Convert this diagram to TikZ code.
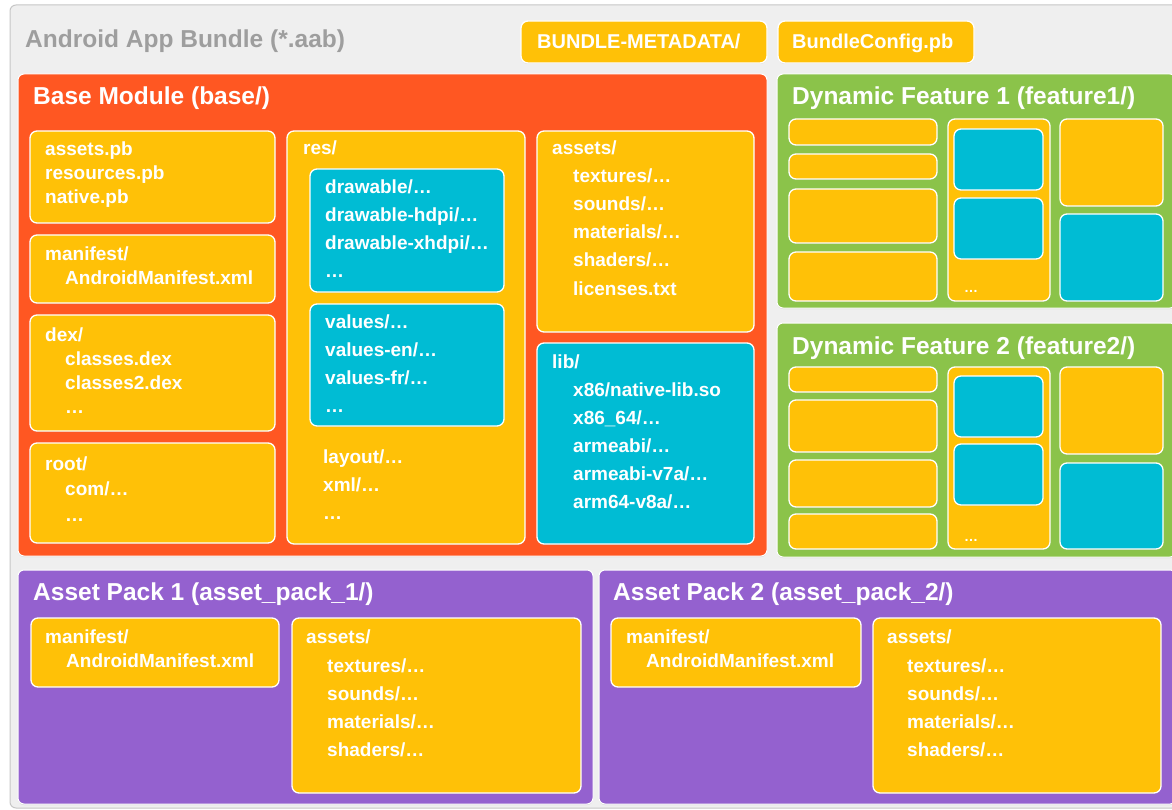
\documentclass[tikz,border=0pt]{standalone}
\usepackage{fontspec}
\setmainfont{Liberation Sans}
\usetikzlibrary{shadows}
\definecolor{cOrange}{HTML}{FF5722}
\definecolor{cAmber}{HTML}{FFC107}
\definecolor{cCyan}{HTML}{00BCD4}
\definecolor{cGreen}{HTML}{8BC34A}
\definecolor{cPurple}{HTML}{9461CF}
\definecolor{cBg}{HTML}{EFEFEF}
\definecolor{cBgLine}{HTML}{C6C6C6}
\definecolor{cTitle}{HTML}{9E9E9E}
\tikzset{
  box/.style={draw=white, line width=1.3pt, rounded corners=7pt, inner sep=0pt, outer sep=0pt,
    drop shadow={shadow xshift=0pt, shadow yshift=-1pt, opacity=0.22}},
  ybox/.style={box, fill=cAmber},
  cbox/.style={box, fill=cCyan},
  module/.style={box, rounded corners=6pt, line width=1pt},
  outerbox/.style={draw=cBgLine, fill=cBg, line width=1pt, rounded corners=6pt, inner sep=0pt, outer sep=0pt},
  lbl/.style={anchor=base west, inner sep=0pt, text=white, font=\bfseries\fontsize{19}{22}\selectfont},
  ttl/.style={lbl, font=\bfseries\fontsize{24.5}{28}\selectfont},
  tag/.style={lbl, font=\bfseries\fontsize{20}{24}\selectfont},
  dots/.style={lbl, font=\bfseries\fontsize{14}{16}\selectfont},
}
\newcommand\boxat[6]{\node[#2, minimum width={#5-#3}, minimum height={#6-#4}] (#1) at ({(#3+#5)/2},{(#4+#6)/2}) {};}
\newcommand\lines[5]{\foreach \itm [count=\i from 0] in {#5} {\node[lbl] (#1\i) at (#2,{#3+\i*#4}) {\itm};}}
\begin{document}
\begin{tikzpicture}[x=1pt,y=-1pt]
\useasboundingbox (0,0) rectangle (1172,810);
\boxat{bundle}{outerbox}{10}{5}{1200}{808}
\node[ttl, text=cTitle] (bundlet) at (25,48) {Android App Bundle (*.aab)};
% top tags
\boxat{meta}{ybox}{521}{21}{767}{63}
\node[tag] (metat) at (537,49) {BUNDLE-METADATA/};
\boxat{conf}{ybox}{778}{21}{974}{63}
\node[tag] (conft) at (792,49) {BundleConfig.pb};
% base module
\boxat{base}{module, fill=cOrange}{18}{74}{767}{556}
\node[ttl] (baset) at (33,105) {Base Module (base/)};
\boxat{pb}{ybox}{30}{131}{275}{223}
\lines{pb}{45}{156}{24}{assets.pb,resources.pb,native.pb}
\boxat{man}{ybox}{30}{235}{275}{303}
\node[lbl] (mana) at (45,261) {manifest/};
\node[lbl] (manb) at (65,284) {AndroidManifest.xml};
\boxat{dex}{ybox}{30}{315}{275}{431}
\node[lbl] (dexh) at (45,341) {dex/};
\lines{dexi}{65}{365}{24}{classes.dex,classes2.dex,…}
\boxat{root}{ybox}{30}{443}{275}{543}
\node[lbl] (rooth) at (45,470) {root/};
\lines{rooti}{65}{495}{26}{com/…,…}
\boxat{res}{ybox}{287}{131}{525}{544}
\node[lbl] (resh) at (303,155) {res/};
\boxat{drw}{cbox}{310}{169}{504}{292}
\lines{drwi}{325}{194}{28}{drawable/…,drawable-hdpi/…,drawable-xhdpi/…,…}
\boxat{vals}{cbox}{310}{304}{504}{426}
\lines{vali}{325}{328}{28}{values/…,values-en/…,values-fr/…,…}
\lines{layi}{323}{463}{28}{layout/…,xml/…,…}
\boxat{assets}{ybox}{537}{131}{754}{332}
\node[lbl] (assh) at (552,155) {assets/};
\lines{assi}{573}{183}{28}{textures/…,sounds/…,materials/…,shaders/…,licenses.txt}
\boxat{lib}{cbox}{537}{343}{754}{544}
\node[lbl] (libh) at (552,368) {lib/};
\lines{libi}{573}{396}{28}{x86/native-lib.so,x86\_64/…,armeabi/…,armeabi-v7a/…,arm64-v8a/…}
% dynamic feature 1
\boxat{dfa}{module, fill=cGreen}{777}{74}{1176}{308}
\node[ttl] (dfat) at (792,105) {Dynamic Feature 1 (feature1/)};
\boxat{dfa1}{ybox}{789}{119}{937}{145}
\boxat{dfa2}{ybox}{789}{154}{937}{179}
\boxat{dfa3}{ybox}{789}{189}{937}{243}
\boxat{dfa4}{ybox}{789}{252}{937}{301}
\boxat{dfa5}{ybox}{948}{119}{1050}{301}
\boxat{dfa6}{cbox}{954}{129}{1043}{190}
\boxat{dfa7}{cbox}{954}{198}{1043}{259}
\node[dots] (dfa8) at (964,292) {…};
\boxat{dfa9}{ybox}{1060}{119}{1163}{206}
\boxat{dfa10}{cbox}{1060}{214}{1163}{301}
% dynamic feature 2
\boxat{dfb}{module, fill=cGreen}{777}{323}{1176}{557}
\node[ttl] (dfbt) at (792,354) {Dynamic Feature 2 (feature2/)};
\boxat{dfb1}{ybox}{789}{367}{937}{392}
\boxat{dfb2}{ybox}{789}{400}{937}{452}
\boxat{dfb3}{ybox}{789}{460}{937}{507}
\boxat{dfb4}{ybox}{789}{514}{937}{549}
\boxat{dfb5}{ybox}{948}{367}{1050}{549}
\boxat{dfb6}{cbox}{954}{376}{1043}{437}
\boxat{dfb7}{cbox}{954}{444}{1043}{505}
\node[dots] (dfb8) at (964,541) {…};
\boxat{dfb9}{ybox}{1060}{367}{1163}{454}
\boxat{dfb10}{cbox}{1060}{463}{1163}{549}
% asset pack 1
\boxat{apa}{module, fill=cPurple}{18}{570}{593}{804}
\node[ttl] (apat) at (33,600) {Asset Pack 1 (asset\_pack\_1/)};
\boxat{apam}{ybox}{31}{618}{279}{687}
\node[lbl] (apam0) at (45,643) {manifest/};
\node[lbl] (apam1) at (66,667) {AndroidManifest.xml};
\boxat{apas}{ybox}{292}{618}{581}{793}
\node[lbl] (apash) at (306,643) {assets/};
\lines{apasi}{327}{672}{28}{textures/…,sounds/…,materials/…,shaders/…}
% asset pack 2
\boxat{apb}{module, fill=cPurple}{599}{570}{1176}{804}
\node[ttl] (apbt) at (613,600) {Asset Pack 2 (asset\_pack\_2/)};
\boxat{apbm}{ybox}{611}{618}{861}{687}
\node[lbl] (apbm0) at (626,643) {manifest/};
\node[lbl] (apbm1) at (646,667) {AndroidManifest.xml};
\boxat{apbs}{ybox}{873}{618}{1161}{793}
\node[lbl] (apbsh) at (887,643) {assets/};
\lines{apbsi}{907}{672}{28}{textures/…,sounds/…,materials/…,shaders/…}
\end{tikzpicture}
\end{document}
